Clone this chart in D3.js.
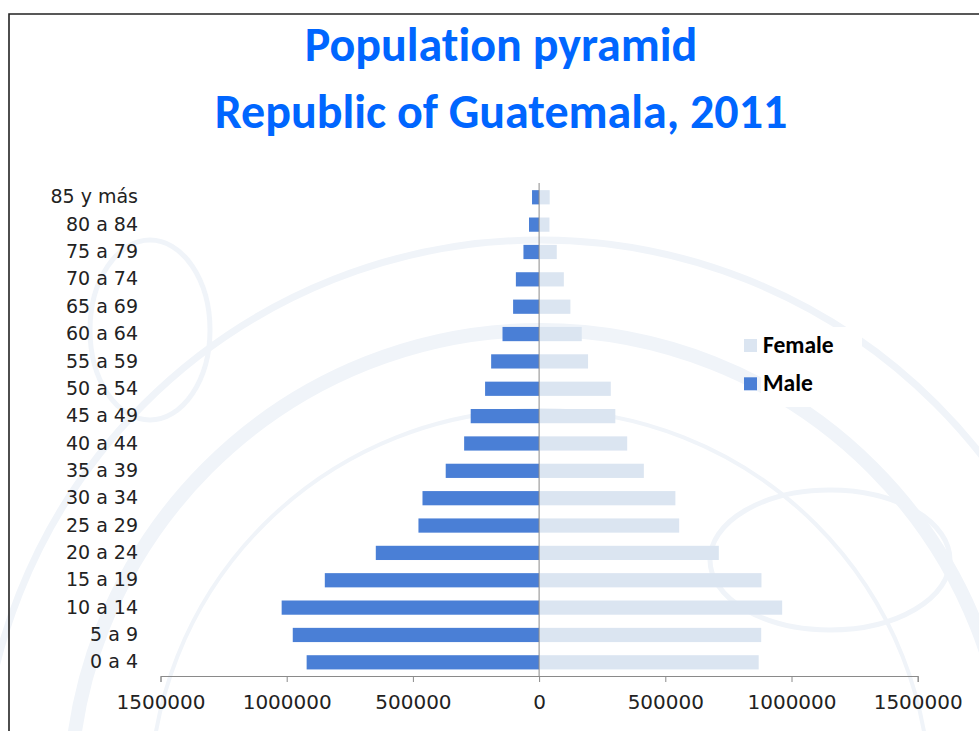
<!DOCTYPE html>
<html lang='en'>
	<head>
		<title>Population pyramid</title>
		<meta charset=utf-8>
		<script src="https://cdn.jsdelivr.net/npm/d3@7/dist/d3.min.js" charset="utf-8"></script>
		<style>
			body {
				margin: 0;
				background-color: white;
			}
			#chart text.title {
				font-family: Carlito, "Open Sans", sans-serif;
				font-weight: bold;
				font-variant-ligatures: none;
				fill: #0066ff;
			}
			.age text, .xax text {
				font-family: "Century Gothic", "DejaVu Sans", sans-serif;
				fill: #222;
			}
			.legend text {
				font-family: Carlito, "Open Sans", sans-serif;
				font-weight: bold;
				font-size: 23.5px;
				fill: #000;
			}
		</style>
	</head>
	<body>
		<svg id='chart' width="979" height="731"></svg>
	<script>
		// age groups, bottom to top
		var ages = ['0 a 4', '5 a 9', '10 a 14', '15 a 19', '20 a 24', '25 a 29', '30 a 34', '35 a 39',
			'40 a 44', '45 a 49', '50 a 54', '55 a 59', '60 a 64', '65 a 69', '70 a 74', '75 a 79',
			'80 a 84', '85 y más'];
		var male = [921000, 976000, 1020000, 849000, 647000, 478000, 462000, 370000,
			297000, 271000, 214000, 190000, 145000, 103000, 92000, 62000, 40000, 28000];
		var female = [870000, 880000, 963000, 881000, 712000, 555000, 540000, 415000,
			349000, 302000, 284000, 194000, 169000, 124000, 98000, 70000, 41000, 42000];
		var series = ['Female', 'Male'];
		var ticks = [-1500000, -1000000, -500000, 0, 500000, 1000000, 1500000];
		var titles = ['Population pyramid', 'Republic of Guatemala, 2011'];

		var svg = d3.select('#chart');

		// faint watermark behind the plot
		var wm = svg.append('g').attr('fill', 'none').attr('stroke', '#f0f4f9');
		wm.append('circle').attr('cx', 540).attr('cy', 800).attr('r', 470).attr('stroke-width', 14);
		wm.append('circle').attr('cx', 540).attr('cy', 800).attr('r', 560).attr('stroke-width', 7);
		wm.append('circle').attr('cx', 540).attr('cy', 800).attr('r', 390).attr('stroke-width', 4);
		wm.append('ellipse').attr('cx', 830).attr('cy', 560).attr('rx', 120).attr('ry', 70).attr('stroke-width', 5);
		wm.append('ellipse').attr('cx', 150).attr('cy', 330).attr('rx', 60).attr('ry', 90).attr('stroke-width', 5);
		wm.append('rect').attr('x', 10).attr('y', 14).attr('width', 969).attr('height', 143).attr('fill', 'white').attr('stroke', 'none');

		// frame
		svg.append('path').attr('d', 'M9,731V14H979').attr('fill', 'none').attr('stroke', '#222').attr('stroke-width', 1.6);

		// titles
		svg.selectAll('text.title').data(titles).enter().append('text')
			.attr('class', 'title')
			.attr('x', 501)
			.attr('y', function(d, i) { return i === 0 ? 61 : 128; })
			.attr('text-anchor', 'middle')
			.style('font-size', '48px')
			.text(function(d) { return d; });

		var x = d3.scaleLinear().domain([-1500000, 1500000]).range([160.5, 917.7]);
		var y = d3.scaleBand().domain(ages.slice().reverse()).range([183.6, 676]).paddingInner(0.48).paddingOuter(0.24);

		// bars
		svg.append('g').selectAll('rect').data(ages).enter().append('rect')
			.attr('x', function(d, i) { return x(-male[i]); })
			.attr('y', function(d) { return y(d); })
			.attr('width', function(d, i) { return x(0) - x(-male[i]); })
			.attr('height', y.bandwidth())
			.attr('fill', '#4a7fd6');
		svg.append('g').selectAll('rect').data(ages).enter().append('rect')
			.attr('x', x(0))
			.attr('y', function(d) { return y(d); })
			.attr('width', function(d, i) { return x(female[i]) - x(0); })
			.attr('height', y.bandwidth())
			.attr('fill', '#dbe5f1');

		// x axis
		var xax = svg.append('g').attr('class', 'xax').attr('transform', 'translate(0,676)')
			.call(d3.axisBottom(x).tickValues(ticks).tickSize(6).tickPadding(13)
				.tickFormat(function(d) { return Math.abs(d); }));
		xax.selectAll('path, line').attr('stroke', '#8a8a8a');
		xax.selectAll('text').style('font-size', '20px');

		// vertical axis at zero
		svg.append('line').attr('x1', x(0)).attr('x2', x(0)).attr('y1', 183).attr('y2', 676).attr('stroke', '#8a8a8a');

		// age labels
		var age = svg.append('g').attr('class', 'age').attr('transform', 'translate(141,0)')
			.call(d3.axisLeft(y).tickSize(0).tickPadding(3));
		age.select('.domain').remove();
		age.selectAll('text').style('font-size', '19px');

		// legend
		var leg = svg.append('g').attr('class', 'legend');
		leg.append('rect').attr('x', 761).attr('y', 327).attr('width', 101).attr('height', 80).attr('fill', 'white');
		var colors = {Female: '#dbe5f1', Male: '#4a7fd6'};
		var items = leg.selectAll('g').data(series).enter().append('g')
			.attr('transform', function(d, i) { return 'translate(744,' + (339 + i * 38.3) + ')'; });
		items.append('rect').attr('width', 13).attr('height', 13).attr('fill', function(d) { return colors[d]; });
		items.append('text').attr('x', 19).attr('y', 14).text(function(d) { return d; });
	</script>
	</body>
</html>
